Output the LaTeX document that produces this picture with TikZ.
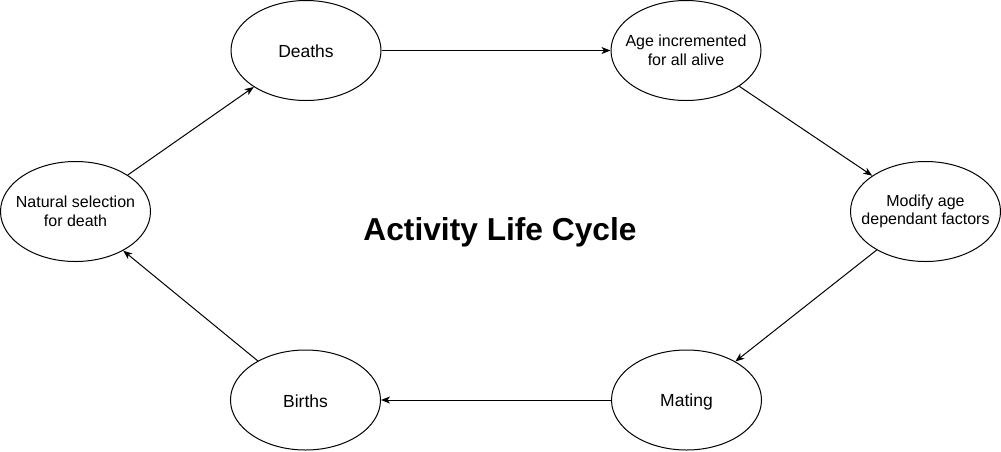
\documentclass[tikz,border=0pt]{standalone}
\usepackage{fontspec}
\setmainfont{Liberation Sans}
\usetikzlibrary{shapes.geometric,arrows.meta}
\tikzset{
  stage/.style={draw=black, line width=1pt, ellipse, minimum width=150pt, minimum height=100pt, inner sep=0pt},
  bigtxt/.style={font=\fontsize{17.5}{20}\selectfont},
  smalltxt/.style={font=\fontsize{16}{18.5}\selectfont, align=center},
  flow/.style={line width=1pt, -{Stealth[length=9pt,width=7pt,inset=2.5pt]}}
}
\begin{document}
\begin{tikzpicture}[x=1pt,y=-1pt]
\useasboundingbox (0,0) rectangle (1001,451);
\node[stage, label={[bigtxt, yshift=-1pt]center:Deaths}] (deaths) at (306,50.5) {};
\node[stage, label={[smalltxt]center:Age incremented\\for all alive}] (age) at (686,50.5) {};
\node[stage, label={[smalltxt]center:Modify age\\dependant factors}] (modify) at (925.5,211.5) {};
\node[stage, label={[bigtxt, yshift=-2pt]center:Mating}] (mating) at (686.5,400) {};
\node[stage, label={[bigtxt, yshift=-1pt]center:Births}] (births) at (305.5,400) {};
\node[stage, label={[smalltxt]center:Natural selection\\for death}] (natsel) at (75.5,211.5) {};
\node[font=\bfseries\fontsize{31.7}{37}\selectfont] (title) at (500,232) {Activity Life Cycle};
\draw[flow] (deaths) -- (age);
\draw[flow] (age) -- (modify);
\draw[flow] (modify) -- (mating);
\draw[flow] (mating) -- (births);
\draw[flow] (births) -- (natsel);
\draw[flow] (natsel) -- (deaths);
\end{tikzpicture}
\end{document}
